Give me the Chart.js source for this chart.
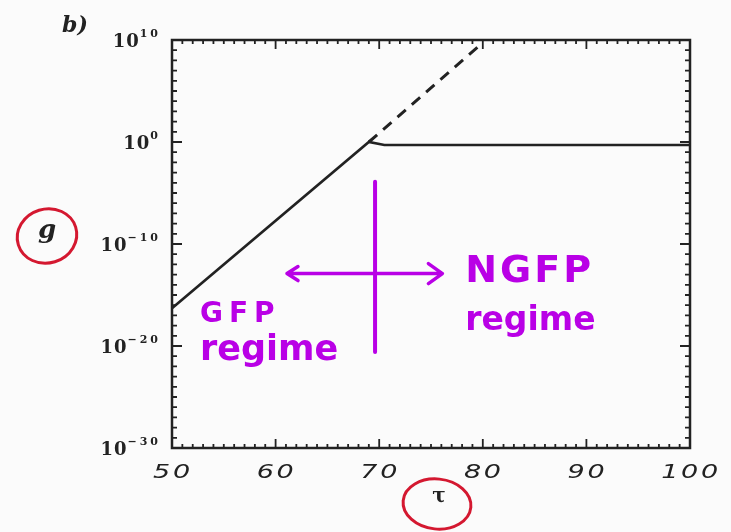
<!DOCTYPE html>
<html>
<head>
<meta charset="utf-8">
<script src="https://cdn.jsdelivr.net/npm/chart.js@4/dist/chart.umd.min.js"></script>
<style>
  body { margin: 0; background: #fbfbfb; }
  canvas { display: block; }
</style>
</head>
<body>
<canvas id="gChart" width="731" height="532"></canvas>
<script>
// solid curve g(tau): power law up to the knee, then flat
const tauSolid = [50, 69, 70.5, 100];
const gSolid = [5e-17, 1, 0.5, 0.5];
// dashed continuation of the power law
const tauDashed = [69, 79.5];
const gDashed = [1, 2e9];
// labelled ticks
const xTicks = [50, 60, 70, 80, 90, 100];
const yTicks = [1e-30, 1e-20, 1e-10, 1e0, 1e10];

const ink = '#222222';
const purple = 'rgb(185, 0, 230)';
const red = 'rgb(212, 24, 48)';

function toPoints(xs, ys) {
    return xs.map((x, i) => ({ x: x, y: ys[i] }));
}

function expText(v) {
    const e = Math.round(Math.log10(v));
    return e < 0 ? '\u2212' + (-e) : String(e);
}

// frame, inward ticks, labels and the hand-drawn notes
const framePlugin = {
    id: 'frame',
    afterDraw(chart) {
        const ctx = chart.ctx;
        const a = chart.chartArea;
        const xs = chart.scales.x;
        const ys = chart.scales.y;
        ctx.save();

        // box
        ctx.strokeStyle = ink;
        ctx.lineWidth = 2.5;
        ctx.strokeRect(a.left, a.top, a.right - a.left, a.bottom - a.top);

        // ticks pointing inward on all sides
        ctx.lineWidth = 1.8;
        ctx.beginPath();
        for (let v = xs.min; v <= xs.max; v++) {
            const px = xs.getPixelForValue(v);
            const len = v % 10 === 0 ? 9 : 4;
            ctx.moveTo(px, a.bottom); ctx.lineTo(px, a.bottom - len);
            ctx.moveTo(px, a.top); ctx.lineTo(px, a.top + len);
        }
        for (let e = -30; e <= 10; e++) {
            const py = ys.getPixelForValue(Math.pow(10, e));
            const len = e % 10 === 0 ? 10 : 5;
            ctx.moveTo(a.left, py); ctx.lineTo(a.left + len, py);
            ctx.moveTo(a.right, py); ctx.lineTo(a.right - len, py);
        }
        ctx.stroke();

        // x tick labels, wide italic digits
        ctx.fillStyle = ink;
        ctx.font = 'italic 20px "DejaVu Sans"';
        ctx.letterSpacing = '2px';
        ctx.textAlign = 'center';
        ctx.textBaseline = 'alphabetic';
        xTicks.forEach(v => {
            ctx.save();
            ctx.translate(xs.getPixelForValue(v) + 1, a.bottom + 30);
            ctx.scale(1.35, 1);
            ctx.fillText(String(v), 0, 0);
            ctx.restore();
        });

        // y tick labels, 10 with a raised exponent
        ctx.textAlign = 'left';
        yTicks.forEach(v => {
            const py = ys.getPixelForValue(v);
            const ex = expText(v);
            ctx.font = 'bold 11px "DejaVu Serif"';
            ctx.letterSpacing = '3px';
            const w2 = ctx.measureText(ex).width;
            const x2 = a.left - 11 - w2;
            ctx.fillText(ex, x2, py - 3);
            ctx.font = 'bold 18px "DejaVu Serif"';
            ctx.letterSpacing = '1px';
            const w1 = ctx.measureText('10').width;
            ctx.fillText('10', x2 - w1, py + 7);
        });

        // panel letter and axis names
        ctx.letterSpacing = '0px';
        ctx.font = 'italic bold 22px "DejaVu Serif"';
        ctx.fillText('b)', 62, 32);
        ctx.textAlign = 'center';
        ctx.font = 'italic bold 26px "DejaVu Serif"';
        ctx.fillText('g', 47, 238);
        ctx.font = 'bold 20px "DejaVu Serif"';
        ctx.fillText('\u03c4', 439, 502);

        // red circles round the axis names
        ctx.strokeStyle = red;
        ctx.lineWidth = 3;
        ctx.beginPath();
        ctx.ellipse(47, 236, 30, 27, -0.3, 0, Math.PI * 2);
        ctx.stroke();
        ctx.beginPath();
        ctx.ellipse(437, 504, 34, 25, 0.1, 0, Math.PI * 2);
        ctx.stroke();

        // purple notes, placed in data coordinates
        const X = v => xs.getPixelForValue(v);
        const Y = lg => ys.getPixelForValue(Math.pow(10, lg));
        ctx.strokeStyle = purple;
        ctx.fillStyle = purple;
        ctx.lineCap = 'round';
        ctx.lineJoin = 'round';

        ctx.lineWidth = 4;
        ctx.beginPath();
        ctx.moveTo(X(69.6), Y(-3.9));
        ctx.lineTo(X(69.6), Y(-20.6));
        ctx.stroke();

        const ay = Y(-12.9);
        const ax0 = X(61.1);
        const ax1 = X(76.1);
        ctx.lineWidth = 3.5;
        ctx.beginPath();
        ctx.moveTo(ax0, ay); ctx.lineTo(ax1, ay);
        ctx.moveTo(ax0 + 11, ay - 7); ctx.lineTo(ax0, ay); ctx.lineTo(ax0 + 11, ay + 7);
        ctx.moveTo(ax1 - 14, ay - 10); ctx.lineTo(ax1, ay); ctx.lineTo(ax1 - 14, ay + 10);
        ctx.stroke();

        ctx.textAlign = 'left';
        ctx.font = 'bold 38px "DejaVu Sans"';
        ctx.letterSpacing = '3px';
        ctx.fillText('NGFP', X(78.3), Y(-13.7));
        ctx.font = 'bold 33px "DejaVu Sans"';
        ctx.letterSpacing = '0px';
        ctx.fillText('regime', X(78.3), Y(-18.4));
        ctx.font = 'bold 28px "DejaVu Sans"';
        ctx.letterSpacing = '6px';
        ctx.fillText('GFP', X(52.7), Y(-17.6));
        ctx.font = 'bold 35px "DejaVu Sans"';
        ctx.letterSpacing = '0px';
        ctx.fillText('regime', X(52.7), Y(-21.4));

        ctx.restore();
    }
};

const ctx = document.getElementById('gChart').getContext('2d');
const gChart = new Chart(ctx, {
    type: 'line',
    data: {
        datasets: [{
            label: 'g',
            data: toPoints(tauSolid, gSolid),
            borderColor: ink,
            borderWidth: 2.6,
            pointRadius: 0,
            tension: 0
        }, {
            label: 'power law',
            data: toPoints(tauDashed, gDashed),
            borderColor: ink,
            borderWidth: 3,
            borderDash: [11, 8],
            pointRadius: 0,
            tension: 0
        }]
    },
    options: {
        responsive: false,
        animation: false,
        layout: { padding: { left: 0, top: 40, right: 41, bottom: 0 } },
        plugins: {
            legend: { display: false },
            tooltip: { enabled: false }
        },
        scales: {
            x: {
                type: 'linear',
                min: 50,
                max: 100,
                grid: { display: false },
                border: { display: false },
                ticks: { display: false },
                afterFit: s => { s.height = 84; }
            },
            y: {
                type: 'logarithmic',
                min: 1e-30,
                max: 1e10,
                grid: { display: false },
                border: { display: false },
                ticks: { display: false },
                afterFit: s => { s.width = 172; }
            }
        }
    },
    plugins: [framePlugin]
});
</script>
</body>
</html>
